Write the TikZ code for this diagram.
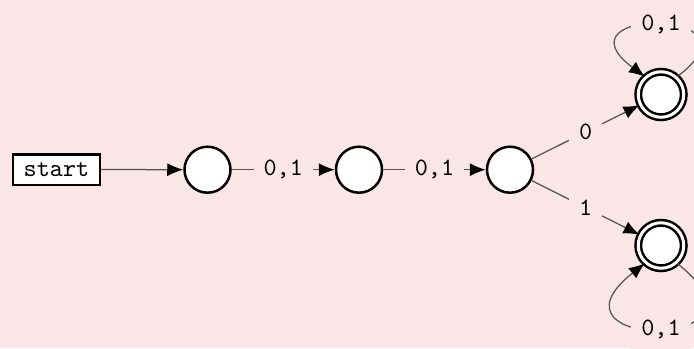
\documentclass[tikz,border=0pt]{standalone}
\usetikzlibrary{arrows.meta}
\definecolor{bgpink}{RGB}{250,230,230}
\definecolor{edgegray}{RGB}{85,85,85}
\begin{document}
\begin{tikzpicture}[x=0.4pt,y=-0.4pt,
  font=\ttfamily,
  stateA/.style={circle,draw=black,fill=white,line width=1pt,minimum size=18.4pt,inner sep=0pt},
  acceptA/.style={circle,draw=black,fill=white,line width=1pt,double=white,double distance=1.2pt,minimum size=18.2pt,inner sep=0pt},
  startbox/.style={draw=black,fill=white,line width=1pt,minimum width=34.6pt,minimum height=12.2pt,inner sep=0pt},
  edge/.style={draw=edgegray,line width=0.5pt,-{Latex[length=6.4pt,width=5.2pt,color=black]}},
  lbl/.style={fill=bgpink,inner sep=4pt,text=black}]
\fill[bgpink] (0,0) rectangle (694,348);
\useasboundingbox (0,0) rectangle (694,348);
\node[startbox] (st) at (56.5,169.5) {start};
\node[stateA] (q0) at (207.5,169.7) {};
\node[stateA] (q1) at (359,169.7) {};
\node[stateA] (q2) at (510,169.7) {};
\node[acceptA] (qa) at (661,94.5) {};
\node[acceptA] (qb) at (661,245.5) {};
\draw[edge] (st) -- (q0);
\draw[edge] (q0) -- node[lbl] {0,1} (q1);
\draw[edge] (q1) -- node[lbl] {0,1} (q2);
\draw[edge] (q2) -- node[lbl] {0} (qa);
\draw[edge] (q2) -- node[lbl] {1} (qb);
\draw[edge] (qa.48) .. controls +(94,-70) and +(-94,-70) .. node[lbl] {0,1} (qa.132);
\draw[edge] (qb.-48) .. controls +(112,88) and +(-112,88) .. node[lbl] {0,1} (qb.-132);
\end{tikzpicture}
\end{document}
